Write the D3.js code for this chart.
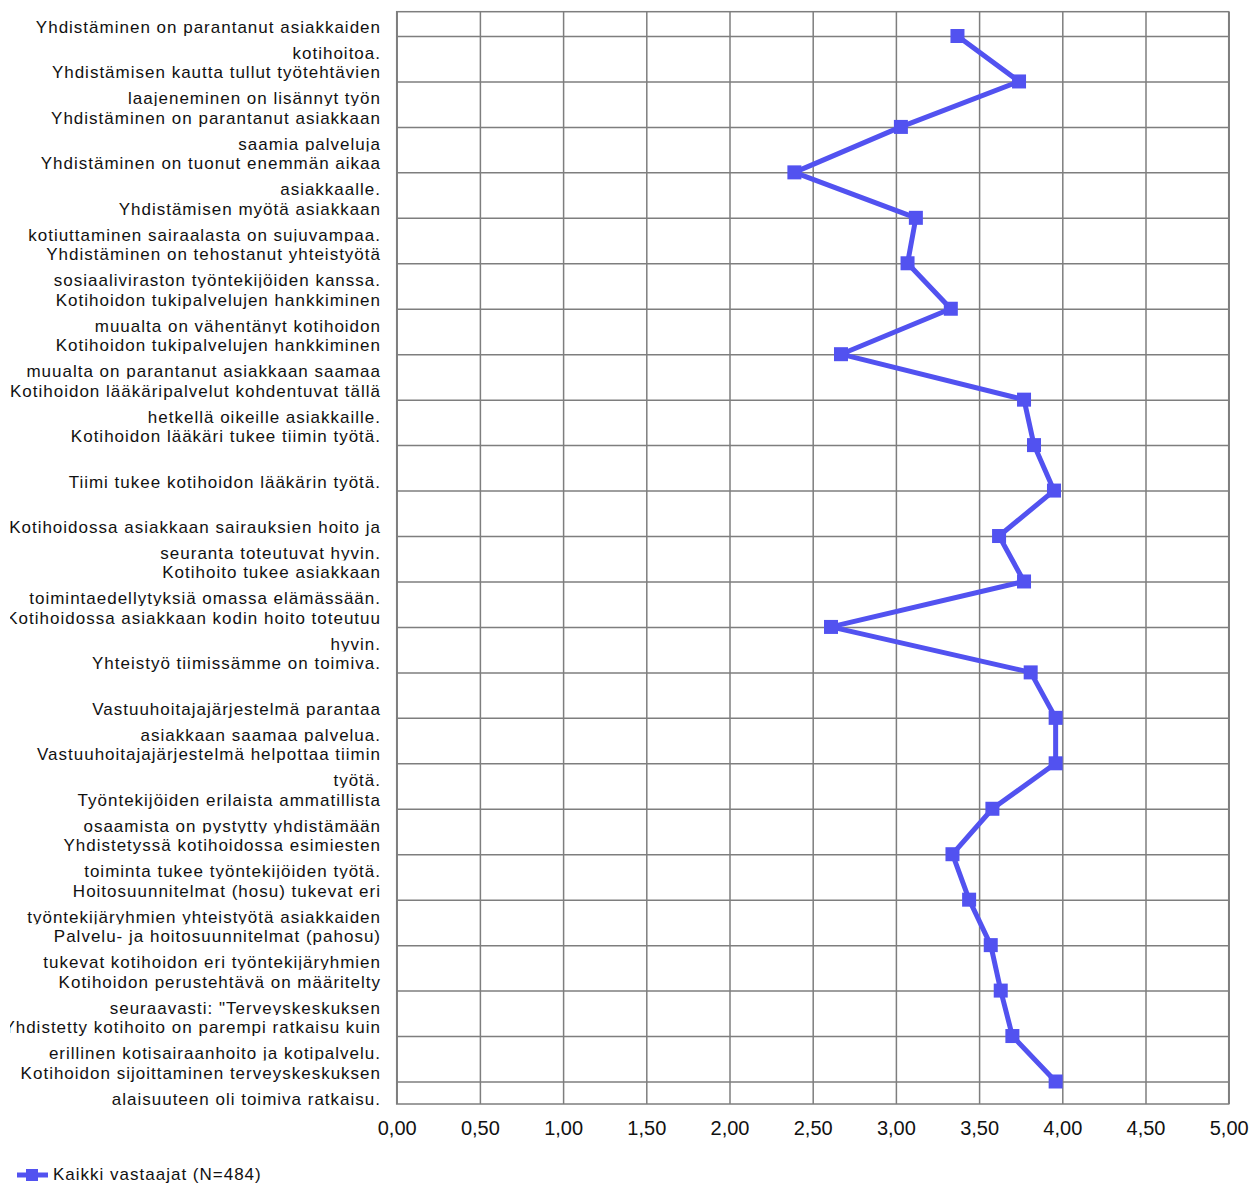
<!DOCTYPE html>
<html><head><meta charset="utf-8">
<script src="https://cdn.jsdelivr.net/npm/d3@7"></script>
<style>body{margin:0;background:#fff} svg{display:block}</style>
</head><body><svg id="c" width="1258" height="1185"></svg>
<script>
const categoryLabels = [
  ["Yhdistäminen on parantanut asiakkaiden", "kotihoitoa."],
  ["Yhdistämisen kautta tullut työtehtävien", "laajeneminen on lisännyt työn"],
  ["Yhdistäminen on parantanut asiakkaan", "saamia palveluja"],
  ["Yhdistäminen on tuonut enemmän aikaa", "asiakkaalle."],
  ["Yhdistämisen myötä asiakkaan", "kotiuttaminen sairaalasta on sujuvampaa."],
  ["Yhdistäminen on tehostanut yhteistyötä", "sosiaaliviraston työntekijöiden kanssa."],
  ["Kotihoidon tukipalvelujen hankkiminen", "muualta on vähentänyt kotihoidon"],
  ["Kotihoidon tukipalvelujen hankkiminen", "muualta on parantanut asiakkaan saamaa"],
  ["Kotihoidon lääkäripalvelut kohdentuvat tällä", "hetkellä oikeille asiakkaille."],
  ["Kotihoidon lääkäri tukee tiimin työtä."],
  ["Tiimi tukee kotihoidon lääkärin työtä."],
  ["Kotihoidossa asiakkaan sairauksien hoito ja", "seuranta toteutuvat hyvin."],
  ["Kotihoito tukee asiakkaan", "toimintaedellytyksiä omassa elämässään."],
  ["Kotihoidossa asiakkaan kodin hoito toteutuu", "hyvin."],
  ["Yhteistyö tiimissämme on toimiva."],
  ["Vastuuhoitajajärjestelmä parantaa", "asiakkaan saamaa palvelua."],
  ["Vastuuhoitajajärjestelmä helpottaa tiimin", "työtä."],
  ["Työntekijöiden erilaista ammatillista", "osaamista on pystytty yhdistämään"],
  ["Yhdistetyssä kotihoidossa esimiesten", "toiminta tukee työntekijöiden työtä."],
  ["Hoitosuunnitelmat (hosu) tukevat eri", "työntekijäryhmien yhteistyötä asiakkaiden"],
  ["Palvelu- ja hoitosuunnitelmat (pahosu)", "tukevat kotihoidon eri työntekijäryhmien"],
  ["Kotihoidon perustehtävä on määritelty", "seuraavasti: \"Terveyskeskuksen"],
  ["Yhdistetty kotihoito on parempi ratkaisu kuin", "erillinen kotisairaanhoito ja kotipalvelu."],
  ["Kotihoidon sijoittaminen terveyskeskuksen", "alaisuuteen oli toimiva ratkaisu."]
];
const seriesName = "Kaikki vastaajat (N=484)";
const seriesValues = [3.37, 3.74, 3.03, 2.39, 3.12, 3.07, 3.33, 2.67, 3.77, 3.83, 3.95, 3.62,
                      3.77, 2.61, 3.81, 3.96, 3.96, 3.58, 3.34, 3.44, 3.57, 3.63, 3.70, 3.96];
const xTickValues = [0, 0.5, 1, 1.5, 2, 2.5, 3, 3.5, 4, 4.5, 5];

(function () {
const svg = d3.select('#c');
const pLeft = 396.7, pRight = 1228.7, pTop = 11.7, pBottom = 1104;
const gridColor = '#7e7e7e';
const lineColor = '#5252f0';
const labelFont = '"Liberation Sans", Arial, sans-serif';

const x = d3.scaleLinear().domain([0, 5]).range([pLeft, pRight]);
const y = d3.scalePoint().domain(d3.range(categoryLabels.length)).range([36, 1081.5]);

// vertical gridlines + tick labels
const xAxis = svg.append('g').attr('transform', `translate(0,${pBottom})`)
  .call(d3.axisBottom(x).tickValues(xTickValues).tickSize(-(pBottom - pTop))
    .tickFormat(d => d3.format('.2f')(d).replace('.', ',')));
xAxis.select('.domain').remove();
xAxis.selectAll('line').attr('stroke', gridColor).attr('stroke-width', 1.5);
xAxis.selectAll('text').attr('y', 31).attr('dy', null)
  .attr('font-family', labelFont).attr('font-size', 20).attr('fill', '#111');

// horizontal gridlines
const yAxis = svg.append('g').attr('transform', `translate(${pLeft},0)`)
  .call(d3.axisLeft(y).tickSize(-(pRight - pLeft)).tickFormat(''));
yAxis.select('.domain').remove();
yAxis.selectAll('line').attr('stroke', gridColor).attr('stroke-width', 1.5);

// plot border
svg.append('rect').attr('x', pLeft).attr('y', pTop).attr('width', pRight - pLeft).attr('height', pBottom - pTop)
  .attr('fill', 'none').attr('stroke', gridColor).attr('stroke-width', 1.5);

// category labels
const defs = svg.append('defs');
defs.append('clipPath').attr('id', 'leftclip').append('rect')
  .attr('x', 10).attr('y', 0).attr('width', 380).attr('height', 1185);
categoryLabels.forEach((lines, i) => {
  defs.append('clipPath').attr('id', 'cl' + i).append('rect')
    .attr('x', 10).attr('y', y(i) + 4).attr('width', 380).attr('height', 20.5);
});
const labG = svg.append('g').attr('font-family', labelFont).attr('font-size', 17)
  .attr('letter-spacing', '1px').attr('fill', '#111').attr('text-anchor', 'end');
categoryLabels.forEach((lines, i) => {
  lines.forEach((t, j) => {
    labG.append('text')
      .attr('x', 381)
      .attr('y', y(i) - 3 + j * 26)
      .attr('clip-path', j === 0 ? 'url(#leftclip)' : `url(#cl${i})`)
      .text(t);
  });
});

// series line
svg.append('path').datum(seriesValues)
  .attr('fill', 'none').attr('stroke', lineColor).attr('stroke-width', 5)
  .attr('stroke-linejoin', 'round')
  .attr('d', d3.line().x(d => x(d)).y((d, i) => y(i)));
svg.append('g').selectAll('rect').data(seriesValues).join('rect')
  .attr('x', d => x(d) - 7).attr('y', (d, i) => y(i) - 7)
  .attr('width', 14).attr('height', 14).attr('fill', lineColor);

// legend
const leg = svg.append('g');
leg.append('line').attr('x1', 17).attr('x2', 48).attr('y1', 1175).attr('y2', 1175)
  .attr('stroke', lineColor).attr('stroke-width', 5);
leg.append('rect').attr('x', 26).attr('y', 1169).attr('width', 12).attr('height', 12).attr('fill', lineColor);
leg.append('text').attr('x', 53).attr('y', 1180).attr('font-family', labelFont).attr('font-size', 17)
  .attr('letter-spacing', '1px').attr('fill', '#111').text(seriesName);
})();
</script></body></html>
